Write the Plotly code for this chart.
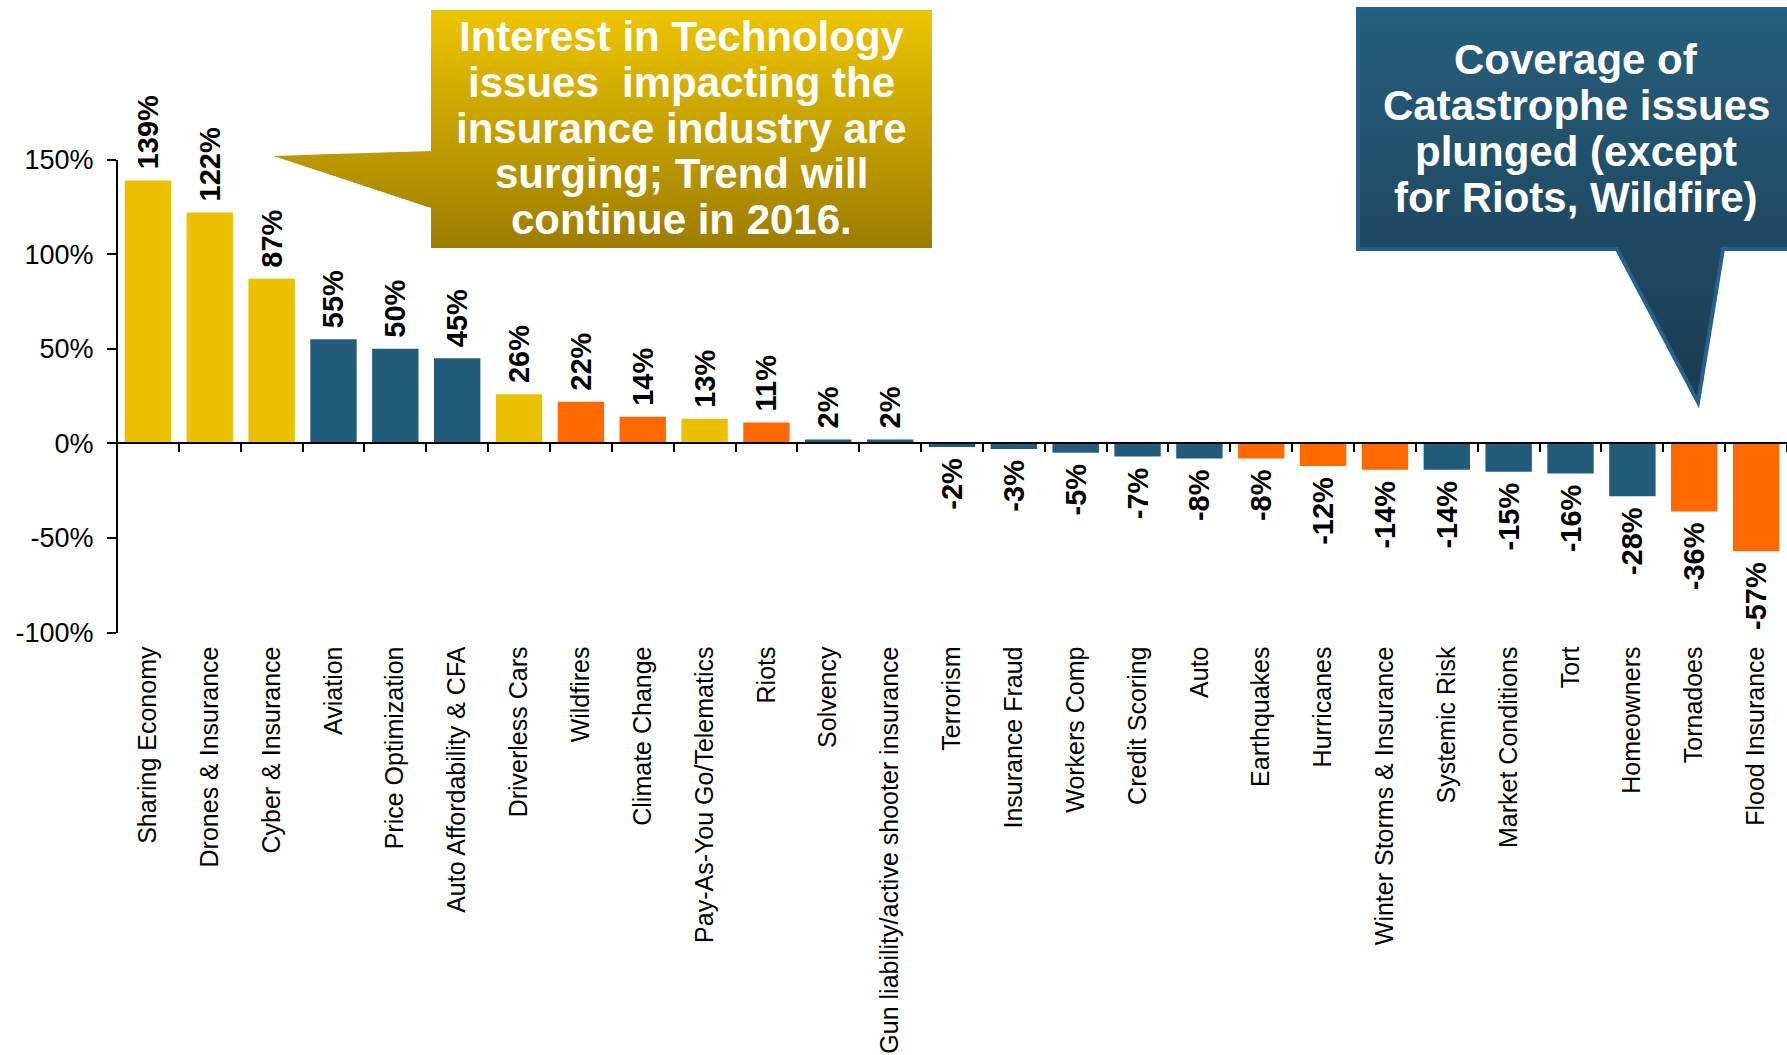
import plotly.graph_objects as go

# ---------------- data ----------------
categories = [
    "Sharing Economy", "Drones & Insurance", "Cyber & Insurance", "Aviation",
    "Price Optimization", "Auto Affordability & CFA", "Driverless Cars", "Wildfires",
    "Climate Change", "Pay-As-You Go/Telematics", "Riots", "Solvency",
    "Gun liability/active shooter insurance", "Terrorism", "Insurance Fraud",
    "Workers Comp", "Credit Scoring", "Auto", "Earthquakes", "Hurricanes",
    "Winter Storms & Insurance", "Systemic Risk", "Market Conditions", "Tort",
    "Homeowners", "Tornadoes", "Flood Insurance",
]
pct_change = [139, 122, 87, 55, 50, 45, 26, 22, 14, 13, 11, 2, 2,
              -2, -3, -5, -7, -8, -8, -12, -14, -14, -15, -16, -28, -36, -57]
group = ["tech", "tech", "tech", "other", "other", "other", "tech", "cat", "cat",
         "tech", "cat", "other", "other", "other", "other", "other", "other", "other",
         "cat", "cat", "cat", "other", "other", "other", "other", "cat", "cat"]
y_ticks = [-100, -50, 0, 50, 100, 150]

callout_tech = ["Interest in Technology", "issues  impacting the",
                "insurance industry are", "surging; Trend will", "continue in 2016."]
callout_cat = ["Coverage of", "Catastrophe issues", "plunged (except",
               "for Riots, Wildfire)"]

# ---------------- styling ----------------
W, H = 1787, 1055
FONT = "Liberation Sans, Arial, sans-serif"
group_colors = {"tech": "#EBC000", "other": "#235C7B", "cat": "#FF6900"}
bar_colors = [group_colors[g] for g in group]
labels = [("\u00a0%d%%" % v) if v >= 0 else ("%d%%\u00a0" % v) for v in pct_change]

# plot area in pixels
px_left, px_top, px_bottom = 117, 159.6, 632.5
xd0 = px_left / W
yd0 = 1 - px_bottom / H
yd1 = 1 - px_top / H
ymin, ymax = -100, 150
zero_pos = yd0 + (0 - ymin) / (ymax - ymin) * (yd1 - yd0)

fig = go.Figure()
fig.add_trace(go.Bar(
    x=categories, y=pct_change, marker=dict(color=bar_colors, line=dict(width=0)),
    text=labels, textposition="outside", textangle=-90,
    textfont=dict(family=FONT, size=29, color="black", weight="bold"),
    cliponaxis=False, constraintext="none", hoverinfo="x+y", showlegend=False,
))
# invisible helper trace that carries the category labels on the bottom axis
fig.add_trace(go.Scatter(
    x=categories, y=pct_change, xaxis="x2", yaxis="y", mode="markers",
    marker=dict(opacity=0), hoverinfo="skip", showlegend=False,
))

# ---------------- callout shapes (gradient via bands) ----------------
def clip_half(pts, keep, inter):
    out = []
    n = len(pts)
    for i in range(n):
        cur, prev = pts[i], pts[i - 1]
        if keep(cur):
            if not keep(prev):
                out.append(inter(prev, cur))
            out.append(cur)
        elif keep(prev):
            out.append(inter(prev, cur))
    return out

def at_y(yc):
    def f(p, q):
        t = (yc - p[1]) / (q[1] - p[1])
        return (p[0] + t * (q[0] - p[0]), yc)
    return f

def clip_band(poly, y0, y1):
    pts = clip_half(poly, lambda p: p[1] >= y0, at_y(y0))
    if len(pts) < 3:
        return []
    pts = clip_half(pts, lambda p: p[1] <= y1, at_y(y1))
    return pts if len(pts) >= 3 else []

def to_path(pts):
    s = "M" + " L".join("%.5f,%.5f" % (x / W, 1 - y / H) for x, y in pts)
    return s + " Z"

def hex2rgb(h):
    h = h.lstrip("#")
    return tuple(int(h[i:i + 2], 16) for i in (0, 2, 4))

def mix(c0, c1, t):
    t = max(0.0, min(1.0, t))
    a, b = hex2rgb(c0), hex2rgb(c1)
    return "rgb(%d,%d,%d)" % tuple(round(a[i] + (b[i] - a[i]) * t) for i in range(3))

shapes = []
def gradient_poly(poly, ctop, cbot, g0, g1, step=4):
    ys = [p[1] for p in poly]
    y = min(ys)
    while y < max(ys):
        y1 = min(y + step, max(ys))
        pts = clip_band(poly, y, y1 + 0.8)
        if pts:
            col = mix(ctop, cbot, ((y + y1) / 2 - g0) / (g1 - g0))
            shapes.append(dict(type="path", xref="paper", yref="paper",
                               path=to_path(pts), fillcolor=col,
                               line=dict(width=0), layer="above"))
        y = y1

tech_poly = [(431, 10), (932, 10), (932, 248), (431, 248), (431, 208),
             (273.5, 156), (431, 151)]
gradient_poly(tech_poly, "#EEC500", "#9C7C00", 10, 248)

cat_poly = [(1358, 9), (1790, 9), (1790, 249), (1723, 249), (1698, 402),
            (1617, 249), (1358, 249)]
gradient_poly(cat_poly, "#265E7D", "#1A3A4F", 9, 402)
shapes.append(dict(type="path", xref="paper", yref="paper", path=to_path(cat_poly),
                   fillcolor="rgba(0,0,0,0)", line=dict(color="#25618A", width=4),
                   layer="above"))

annotations = []
for i, line in enumerate(callout_tech):
    annotations.append(dict(x=681.5 / W, y=1 - (36.5 + 45.8 * i) / H, xref="paper",
                            yref="paper", text=line, showarrow=False,
                            xanchor="center", yanchor="middle",
                            font=dict(family=FONT, size=42, color="white", weight="bold")))
for i, line in enumerate(callout_cat):
    annotations.append(dict(x=1576 / W, y=1 - (59 + 46 * i) / H, xref="paper",
                            yref="paper", text=line, showarrow=False,
                            xanchor="center", yanchor="middle",
                            font=dict(family=FONT, size=42, color="white", weight="bold")))

fig.update_layout(
    template="none",
    width=W, height=H, margin=dict(l=0, r=0, t=0, b=0, pad=0, autoexpand=False),
    paper_bgcolor="white", plot_bgcolor="rgba(0,0,0,0)",
    bargap=0.25, showlegend=False,
    font=dict(family=FONT, color="black"),
    xaxis=dict(domain=[xd0, 1], anchor="free", position=zero_pos, type="category",
               range=[-0.5, len(categories) - 0.5], showline=True, linecolor="black",
               linewidth=2, ticks="outside", tickson="boundaries", ticklen=8,
               tickwidth=2, tickcolor="black", showticklabels=False,
               showgrid=False, zeroline=False, automargin=False),
    xaxis2=dict(domain=[xd0, 1], overlaying="x", anchor="y", side="bottom",
                type="category", range=[-0.5, len(categories) - 0.5],
                showticklabels=True, tickangle=-90, ticks="", showline=False,
                showgrid=False, zeroline=False, ticklabelstandoff=8, automargin=False,
                tickfont=dict(family=FONT, size=25, color="black")),
    yaxis=dict(domain=[yd0, yd1], anchor="free", position=xd0, range=[ymin, ymax],
               tickvals=y_ticks, ticktext=["%d%%" % v for v in y_ticks],
               showline=True, linecolor="black", linewidth=2, ticks="outside",
               ticklen=9, tickwidth=2, tickcolor="black", showgrid=False,
               zeroline=False, automargin=False, ticklabelstandoff=8,
               tickfont=dict(family=FONT, size=27, color="black")),
    shapes=shapes, annotations=annotations,
)

fig.write_html(
    "out.html",
    config={"displayModeBar": False},
    post_script="document.documentElement.style.margin='0';"
                "document.body.style.margin='0';"
                "document.body.style.padding='0';"
                "document.documentElement.style.overflow='hidden';"
                "document.body.style.overflow='hidden';",
)
